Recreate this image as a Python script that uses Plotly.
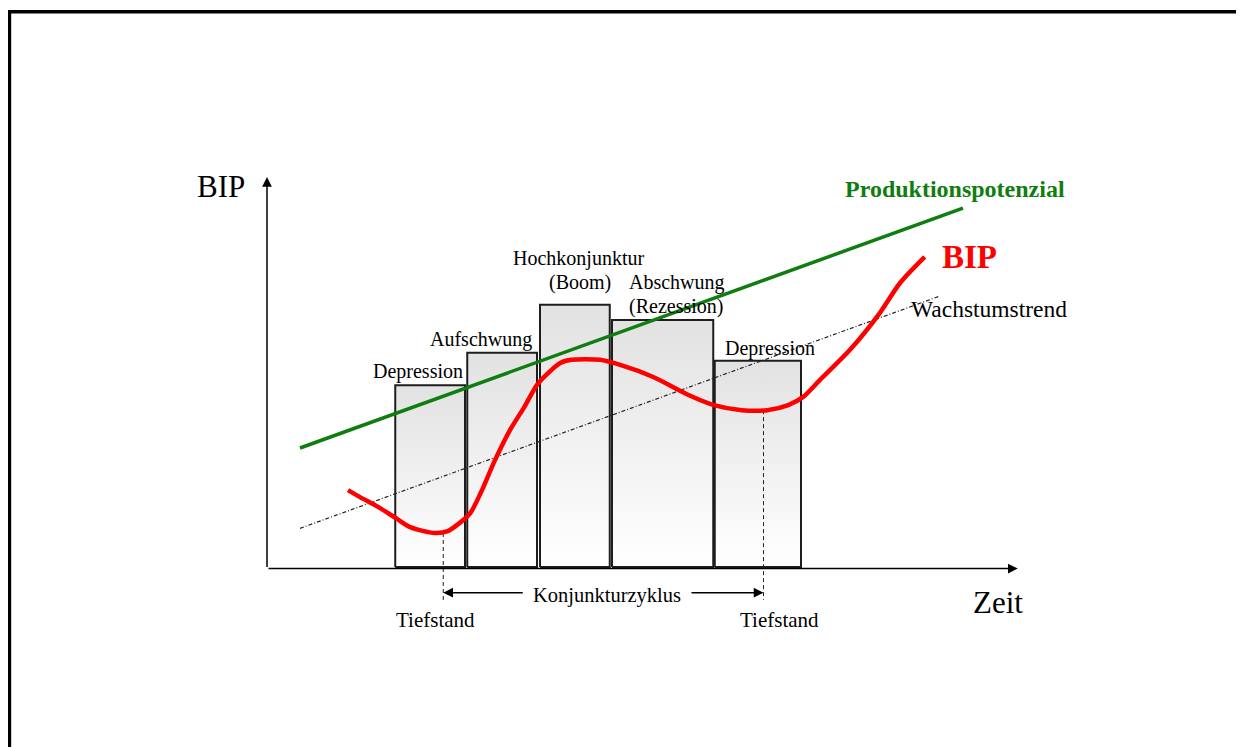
import plotly.graph_objects as go

# ---- data (time units 0..100, BIP units 0..100) ----
phase_labels = ["Depression", "Aufschwung", "Hochkonjunktur<br>(Boom)", "Abschwung<br>(Rezession)", "Depression"]
bar_left = [17.1, 26.7, 36.4, 46.0, 59.7]
bar_right = [26.4, 36.0, 45.7, 59.5, 71.2]
bar_top = [47.0, 55.3, 67.6, 63.7, 53.3]
bar_base = 0.4

potenzial_t = [4.4, 92.8]
potenzial_v = [30.9, 92.4]

trend_t = [4.4, 89.5]
trend_v = [10.3, 69.7]

bip_t = [10.8, 12.4, 14.8, 17.2, 19.1, 22.4, 24.1, 25.7, 27.1, 28.5, 30.4, 32.4, 34.3, 36.0,
         37.2, 39.1, 40.6, 44.4, 47.1, 51.5, 56.2, 59.6, 63.3, 66.7, 69.5, 71.5, 73.7, 77.7,
         81.7, 84.4, 87.7]
bip_v = [20.1, 18.3, 15.8, 12.9, 10.6, 9.1, 9.6, 11.7, 14.2, 19.4, 27.8, 35.5, 41.4, 47.1,
         49.6, 52.7, 53.5, 53.5, 52.2, 49.1, 44.5, 41.9, 40.6, 40.6, 41.9, 44.0, 48.3, 56.0,
         65.5, 73.2, 79.9]

tief_t = [23.5, 66.2]
tief_v = [9.1, 40.6]
cycle_v = -6.2
cycle_gap = [34.3, 56.4]

# ---- coordinate mapping of the canvas ----
W, H = 1244, 747
PAGE_OFF = 8               # page body margin
X0_PX, XS = 267.0 - PAGE_OFF, 7.5     # px of t=0, px per time unit
Y0_PX, YS = 568.5 - PAGE_OFF, 3.9     # px of v=0, px per BIP unit

x_range = [(0 - X0_PX) / XS, (W - X0_PX) / XS]
y_range = [(Y0_PX - H) / YS, (Y0_PX - 0) / YS]

SERIF = "Liberation Serif, Times New Roman, serif"
GREEN = "#0f7d0f"

fig = go.Figure()

# bars with vertical gradient
for l, r, t in zip(bar_left, bar_right, bar_top):
    fig.add_trace(go.Scatter(
        x=[l, l, r, r, l], y=[bar_base, t, t, bar_base, bar_base],
        mode="lines", fill="toself",
        fillgradient=dict(type="vertical", colorscale=[[0, "#ffffff"], [1, "#e2e2e2"]]),
        line=dict(color="#1e1e1e", width=2),
        hoverinfo="skip", showlegend=False))

# Wachstumstrend
fig.add_trace(go.Scatter(x=trend_t, y=trend_v, mode="lines",
                         line=dict(color="#222222", width=1.2, dash="4px,2px,1px,2px"),
                         hoverinfo="skip", showlegend=False))

# Produktionspotenzial
fig.add_trace(go.Scatter(x=potenzial_t, y=potenzial_v, mode="lines",
                         line=dict(color=GREEN, width=3.5),
                         hoverinfo="skip", showlegend=False))

# Tiefstand dashed verticals
tick_bottom = -8.1
for tt, tv in zip(tief_t, tief_v):
    fig.add_trace(go.Scatter(x=[tt, tt], y=[tv, tick_bottom], mode="lines",
                             line=dict(color="#222222", width=1, dash="4px,3px"),
                             hoverinfo="skip", showlegend=False))

# BIP curve
fig.add_trace(go.Scatter(x=bip_t, y=bip_v, mode="lines",
                         line=dict(color="#ff0000", width=4.5, shape="spline", smoothing=0.8),
                         hoverinfo="skip", showlegend=False))

annotations = []


def arrow(hx, hy, tx, ty, width=1.5):
    annotations.append(dict(x=hx, y=hy, ax=tx, ay=ty, xref="x", yref="y", axref="x", ayref="y",
                            text="", showarrow=True, arrowhead=2, arrowsize=1.3,
                            arrowwidth=width, arrowcolor="#000000", standoff=0, startstandoff=0))


# axes
arrow(0, 100.4, 0, 0)
arrow(100.1, 0, 0, 0)
# Konjunkturzyklus arrows
arrow(tief_t[0], cycle_v, cycle_gap[0], cycle_v)
arrow(tief_t[1], cycle_v, cycle_gap[1], cycle_v)


def label(t, v, text, size, color="#000000", bold=False):
    annotations.append(dict(x=t, y=v, xref="x", yref="y", text=f"<b>{text}</b>" if bold else text,
                            showarrow=False, xanchor="center", yanchor="middle",
                            font=dict(family=SERIF, size=size, color=color)))


label(-6.13, 97.9, "BIP", 31)
label(97.47, -8.72, "Zeit", 31)
label(91.73, 97.3, "Produktionspotenzial", 24, GREEN, bold=True)
label(93.6, 79.9, "BIP", 33, "#ff0000", bold=True)
label(96.2, 66.5, "Wachstumstrend", 23.5)
label(41.53, 79.5, "Hochkonjunktur", 20)
label(41.73, 73.3, "(Boom)", 20)
label(54.67, 73.4, "Abschwung", 20)
label(54.47, 67.3, "(Rezession)", 20)
label(28.47, 58.6, "Aufschwung", 20)
label(20.07, 50.5, "Depression", 20)
label(67.07, 56.5, "Depression", 20)
label(22.47, -13.1, "Tiefstand", 21)
label(68.33, -13.1, "Tiefstand", 21)
label(45.33, -6.97, "Konjunkturzyklus", 20.5)

# outer frame (top and left edges)
fx = 1.5 / W
fy = 1 - (11.7 - PAGE_OFF) / H
shapes = [dict(type="path", xref="paper", yref="paper",
               path=f"M {fx},0 L {fx},{fy} L 1,{fy}",
               line=dict(color="#000000", width=3.4))]

fig.update_layout(
    width=W, height=H,
    margin=dict(l=0, r=0, t=0, b=0),
    paper_bgcolor="white", plot_bgcolor="white",
    xaxis=dict(range=x_range, visible=False, fixedrange=True),
    yaxis=dict(range=y_range, visible=False, fixedrange=True),
    annotations=annotations, shapes=shapes,
    showlegend=False,
)

fig.write_html("out.html")
